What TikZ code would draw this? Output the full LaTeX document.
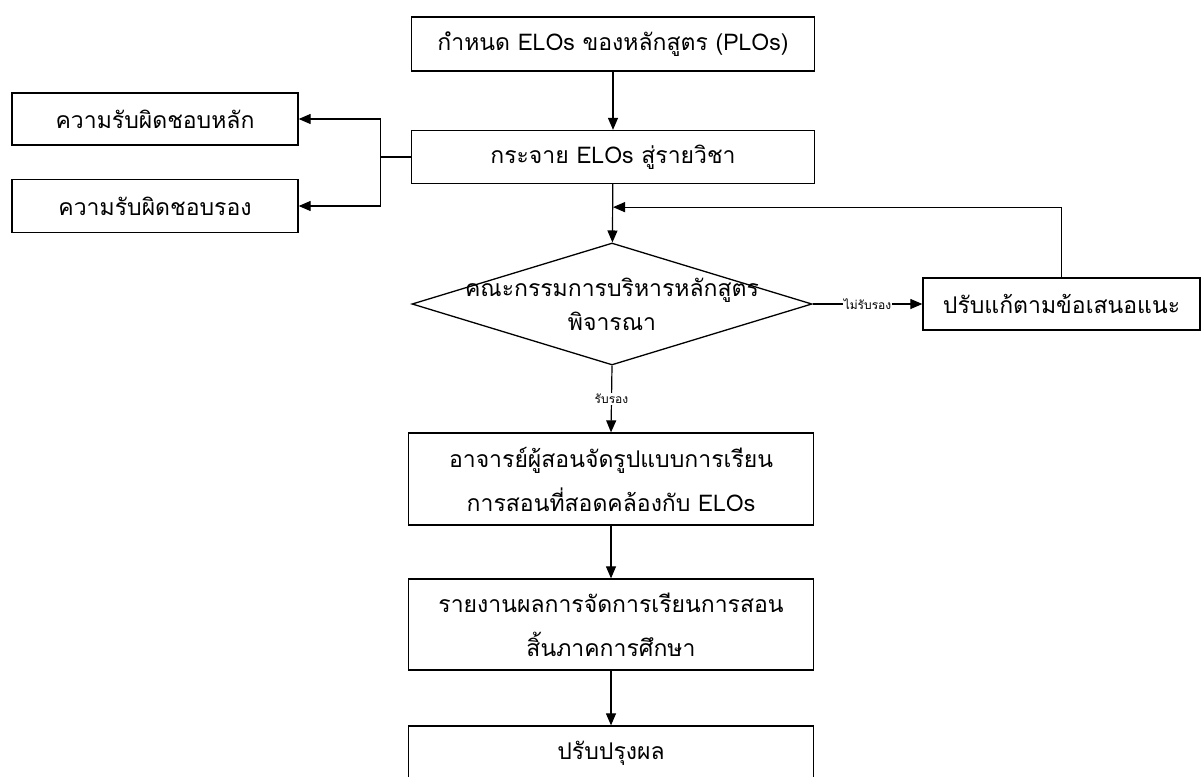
\documentclass[tikz,border=0pt]{standalone}
\usepackage{fontspec}
\newfontfamily\thaifont[Script=Thai]{Loma}
\usetikzlibrary{arrows.meta,shapes.geometric}

\begin{document}
\begin{tikzpicture}[x=1pt,y=-1pt,% ------ ELOs flowchart ----------------
    boite/.style={draw,line width=1.3pt,minimum width=403pt,minimum height=54pt,inner sep=0pt,
      align=center,font=\thaifont\fontsize{23}{44}\selectfont},
    fleche/.style={line width=1.2pt,-{Triangle[length=12pt,width=10pt]}},
    petit/.style={fill=white,inner sep=1pt,font=\thaifont\fontsize{12}{14}\selectfont}]
  \useasboundingbox (0,0) rectangle (1201,776);
  \clip (0,0) rectangle (1201,776);
  % boites
  \node [boite] (plo) at (613,44) {กำหนด ELOs ของหลักสูตร (PLOs)};
  \node [boite,minimum height=53pt] (dist) at (613,157) {กระจาย ELOs สู่รายวิชา};
  \node [boite,minimum width=286pt,minimum height=52pt] (principal) at (155,119) {ความรับผิดชอบหลัก};
  \node [boite,minimum width=286pt,minimum height=53pt] (secondaire) at (155,206) {ความรับผิดชอบรอง};
  \node [draw,diamond,line width=1.3pt,inner sep=0pt,minimum width=400pt,minimum height=122pt,
    label={[align=center,font=\thaifont\fontsize{23}{34}\selectfont]center:คณะกรรมการบริหารหลักสูตร\\พิจารณา}] (comite) at (612,304) {};
  \node [boite,minimum width=277pt,minimum height=52pt] (revision) at (1061.5,304) {ปรับแก้ตามข้อเสนอแนะ};
  \node [boite,minimum width=405pt,minimum height=92pt] (cours) at (611,479) {อาจารย์ผู้สอนจัดรูปแบบการเรียน\\การสอนที่สอดคล้องกับ ELOs};
  \node [boite,minimum width=405pt,minimum height=91pt] (rapport) at (611,624.5) {รายงานผลการจัดการเรียนการสอน\\สิ้นภาคการศึกษา};
  \node [boite,minimum width=405pt] (ameliorer) at (611,753) {ปรับปรุงผล};
  % fleches
  \draw [fleche] (plo) -- (dist);
  \draw [line width=1.2pt] (dist.west) -- ++(-30,0) coordinate (split);
  \draw [fleche] (split) |- (principal.east);
  \draw [fleche] (split) |- (secondaire.east);
  \draw [fleche] (dist) -- (comite);
  \draw [fleche] (comite.east) -- node [petit] {ไม่รับรอง} (revision.west);
  \draw [fleche] (revision.north) |- ([yshift=-23pt]dist.south);
  \draw [fleche] (comite.south) -- node [petit] {รับรอง} (cours.north);
  \draw [fleche] (cours) -- (rapport);
  \draw [fleche] (rapport) -- (ameliorer);
\end{tikzpicture}
\end{document}
